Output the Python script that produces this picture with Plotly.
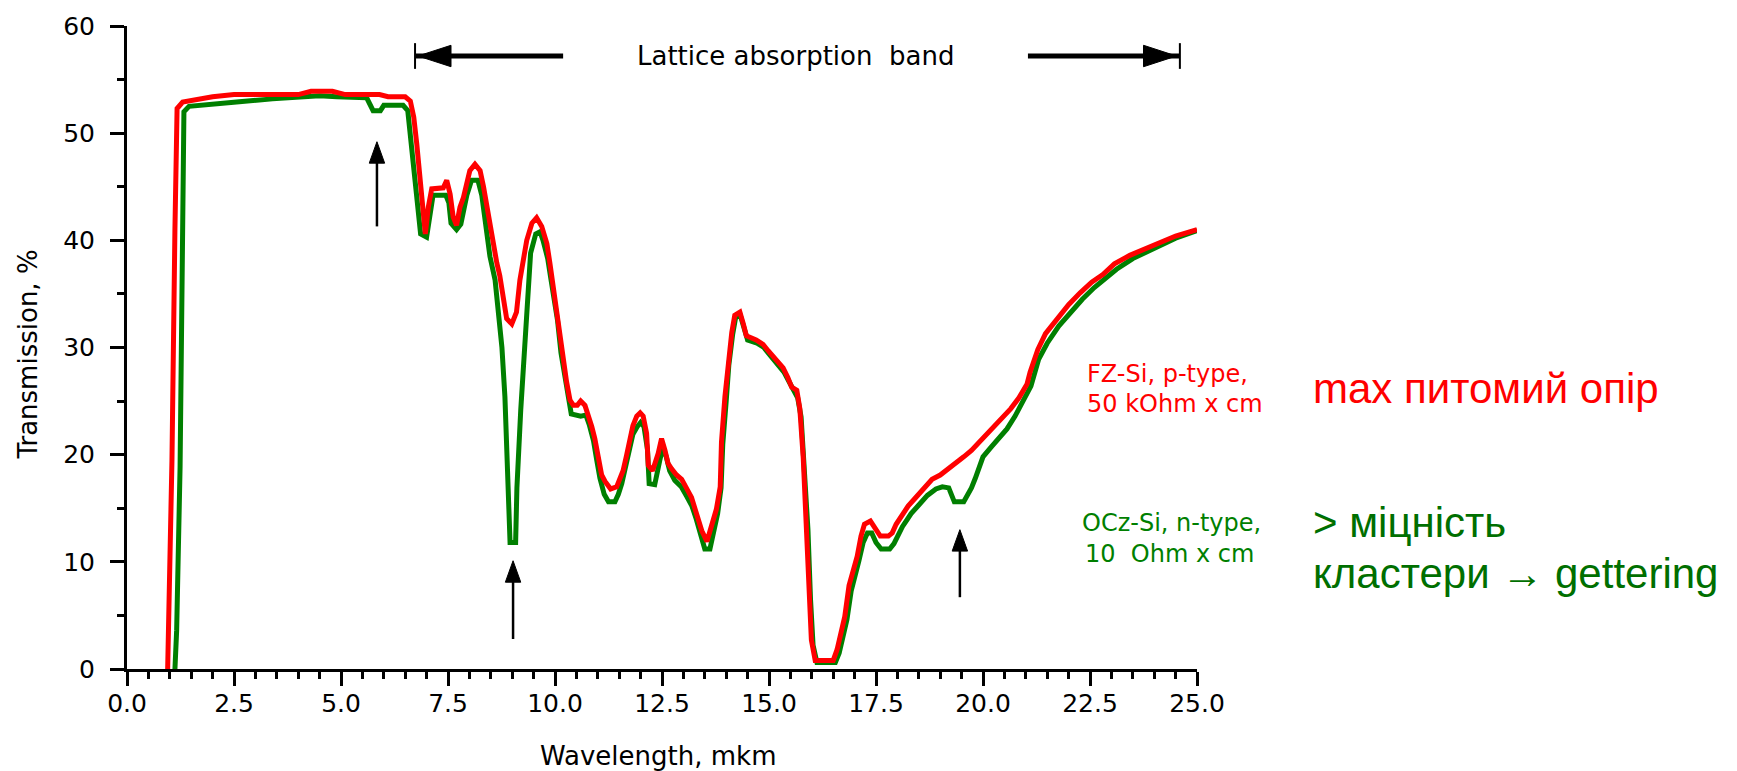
import plotly.graph_objects as go

# FZ-Si, p-type, 50 kOhm x cm
fz_wavelength = [0.95, 0.97, 1.05, 1.12, 1.17, 1.3, 1.6, 2.0, 2.5, 3.0, 3.5, 4.0, 4.3, 4.8, 5.1, 5.5, 5.9,
                 6.1, 6.5, 6.62, 6.7, 6.77, 6.84, 6.9, 6.97, 7.04, 7.12, 7.39, 7.47, 7.55, 7.62, 7.70, 7.78,
                 7.86, 7.94, 8.01, 8.13, 8.25, 8.33, 8.41, 8.48, 8.56, 8.64, 8.71, 8.79, 8.87, 8.99, 9.1,
                 9.18, 9.26, 9.34, 9.46, 9.57, 9.69, 9.81, 9.88, 9.96, 10.04, 10.12, 10.19, 10.27, 10.35,
                 10.43, 10.52, 10.6, 10.7, 10.77, 10.86, 10.93, 11.0, 11.09, 11.17, 11.3, 11.44, 11.52,
                 11.59, 11.67, 11.75, 11.82, 11.91, 11.99, 12.06, 12.14, 12.18, 12.28, 12.41, 12.49, 12.57,
                 12.64, 12.72, 12.84, 12.96, 13.04, 13.11, 13.19, 13.27, 13.34, 13.43, 13.55, 13.69, 13.77,
                 13.86, 13.89, 13.97, 14.04, 14.13, 14.2, 14.32, 14.4, 14.47, 14.7, 14.86, 14.98, 15.1,
                 15.2, 15.33, 15.44, 15.53, 15.65, 15.72, 15.8, 15.88, 15.94, 15.99, 16.08, 16.5, 16.59,
                 16.68, 16.77, 16.87, 16.96, 17.06, 17.15, 17.23, 17.37, 17.47, 17.6, 17.79, 17.88, 17.97,
                 18.06, 18.15, 18.25, 18.43, 18.62, 18.81, 19.0, 19.17, 19.36, 19.55, 19.73, 19.92, 20.1,
                 20.28, 20.47, 20.65, 20.84, 21.03, 21.1, 21.28, 21.46, 21.73, 22.0, 22.27, 22.54, 22.8,
                 23.07, 23.43, 24.0, 24.5, 25.0]
fz_transmission = [0.0, 4.3, 19.4, 41.1, 52.3, 52.9, 53.1, 53.4, 53.6, 53.6, 53.6, 53.6, 53.9, 53.9, 53.6,
                   53.6, 53.6, 53.4, 53.4, 53.0, 51.5, 49.0, 45.6, 43.1, 40.6, 43.1, 44.8, 44.9, 45.6, 44.3,
                   42.2, 41.4, 43.1, 44.0, 45.6, 46.5, 47.1, 46.5, 45.0, 43.1, 41.6, 39.4, 37.9, 36.7, 34.8,
                   32.7, 32.2, 33.3, 36.3, 38.2, 40.0, 41.6, 42.1, 41.3, 39.7, 37.9, 35.5, 33.5, 30.5, 28.5,
                   26.8, 25.1, 24.6, 24.6, 25.0, 24.6, 23.8, 22.6, 21.5, 19.7, 18.1, 17.5, 16.8, 17.0, 17.8,
                   18.5, 19.9, 21.5, 22.7, 23.6, 23.9, 23.6, 22.0, 19.0, 18.5, 20.1, 21.5, 20.4, 19.2, 18.7,
                   18.1, 17.7, 17.2, 16.6, 16.0, 15.0, 14.1, 12.9, 11.9, 13.8, 14.9, 17.0, 21.2, 25.4, 28.5,
                   31.4, 33.0, 33.3, 32.2, 31.1, 30.7, 30.3, 29.7, 29.1, 28.6, 28.1, 27.2, 26.3, 26.0, 24.3,
                   19.7, 13.5, 7.0, 2.7, 0.8, 0.8, 1.8, 3.6, 4.9, 7.8, 9.0, 10.5, 12.4, 13.5, 13.8, 13.1,
                   12.4, 12.4, 12.7, 13.5, 14.1, 14.7, 15.2, 16.0, 16.9, 17.7, 18.1, 18.6, 19.2, 19.8, 20.4,
                   21.2, 21.9, 22.7, 23.5, 24.3, 25.3, 26.6, 27.7, 29.8, 31.3, 32.7, 34.0, 35.1, 36.1, 36.8,
                   37.8, 38.6, 39.6, 40.4, 41.0]

# OCz-Si, n-type, 10 Ohm x cm
ocz_wavelength = [1.12, 1.16, 1.24, 1.3, 1.33, 1.45, 2.17, 2.56, 3.4, 4.2, 4.5, 4.9, 5.6, 5.75, 5.92, 6.0,
                  6.45, 6.56, 6.66, 6.75, 6.86, 7.0, 7.08, 7.15, 7.45, 7.52, 7.57, 7.7, 7.8, 7.86, 7.94,
                  8.05, 8.2, 8.29, 8.41, 8.48, 8.6, 8.68, 8.76, 8.83, 8.9, 8.95, 9.08, 9.11, 9.2, 9.28,
                  9.35, 9.43, 9.55, 9.65, 9.72, 9.83, 9.9, 9.98, 10.06, 10.14, 10.22, 10.3, 10.38, 10.6,
                  10.72, 10.8, 10.9, 10.97, 11.05, 11.15, 11.25, 11.4, 11.48, 11.56, 11.64, 11.73, 11.82,
                  11.92, 12.0, 12.08, 12.16, 12.2, 12.33, 12.45, 12.52, 12.6, 12.68, 12.8, 12.95, 13.08,
                  13.2, 13.3, 13.4, 13.5, 13.62, 13.72, 13.8, 13.88, 13.92, 14.0, 14.06, 14.15, 14.22,
                  14.33, 14.42, 14.5, 14.72, 14.88, 15.0, 15.12, 15.22, 15.35, 15.47, 15.56, 15.67, 15.75,
                  15.83, 15.91, 15.97, 16.03, 16.12, 16.55, 16.64, 16.73, 16.82, 16.92, 17.01, 17.1, 17.2,
                  17.3, 17.4, 17.5, 17.62, 17.82, 17.92, 18.02, 18.12, 18.22, 18.32, 18.5, 18.7, 18.9,
                  19.05, 19.2, 19.33, 19.55, 19.73, 19.82, 19.92, 20.0, 20.19, 20.37, 20.56, 20.75, 20.93,
                  21.12, 21.3, 21.5, 21.77, 22.05, 22.32, 22.6, 22.85, 23.12, 23.5, 24.0, 24.5, 25.0]
ocz_transmission = [0.0, 3.6, 18.8, 40.6, 52.0, 52.5, 52.7, 52.9, 53.2, 53.4, 53.5, 53.4, 53.3, 52.1, 52.1,
                    52.6, 52.6, 52.1, 48.4, 45.3, 40.6, 40.3, 42.4, 44.2, 44.2, 43.5, 41.6, 41.0, 41.5,
                    42.8, 44.2, 45.6, 45.6, 44.2, 41.0, 38.5, 36.3, 33.5, 30.0, 25.4, 18.0, 11.8, 11.8,
                    16.9, 24.2, 29.3, 34.8, 38.8, 40.6, 40.8, 40.0, 38.3, 36.5, 34.5, 32.5, 29.5, 27.5,
                    25.3, 23.8, 23.6, 23.7, 22.8, 21.3, 19.6, 17.8, 16.3, 15.6, 15.6, 16.3, 17.3, 18.6,
                    20.4, 21.9, 22.6, 23.0, 22.6, 20.5, 17.3, 17.2, 19.5, 20.7, 19.8, 18.5, 17.6, 17.0,
                    16.1, 15.2, 14.0, 12.6, 11.2, 11.2, 13.2, 14.5, 16.9, 21.0, 25.0, 28.3, 31.2, 32.8,
                    33.0, 31.9, 30.7, 30.4, 30.0, 29.4, 28.8, 28.3, 27.7, 26.8, 26.0, 25.3, 23.5, 19.0,
                    13.0, 6.5, 2.2, 0.6, 0.6, 1.5, 3.2, 4.6, 7.3, 8.6, 10.1, 11.8, 12.7, 12.7, 11.8, 11.2,
                    11.2, 11.7, 12.6, 13.3, 13.9, 14.5, 15.3, 16.2, 16.8, 17.0, 16.9, 15.6, 15.6, 16.9,
                    17.8, 19.0, 19.8, 20.7, 21.5, 22.4, 23.6, 25.0, 26.4, 28.9, 30.4, 32.0, 33.3, 34.5,
                    35.6, 36.4, 37.3, 38.3, 39.3, 40.2, 40.9]

x_ticks = [0, 2.5, 5, 7.5, 10, 12.5, 15, 17.5, 20, 22.5, 25]
x_tick_labels = ["0.0", "2.5", "5.0", "7.5", "10.0", "12.5", "15.0", "17.5", "20.0", "22.5", "25.0"]
y_ticks = [0, 10, 20, 30, 40, 50, 60]
y_tick_labels = ["0", "10", "20", "30", "40", "50", "60"]

# Absorption features marked with upward arrows: wavelength, tail, tip
mark_x = [5.84, 9.02, 19.46]
mark_tail = [41.3, 2.8, 6.7]
mark_tip = [49.2, 10.1, 13.0]

RED = "#ff0000"
GREEN = "#007f00"
GREEN_TEXT = "#006f00"
SMALL_FONT = "DejaVu Sans"
BIG_FONT = "Liberation Sans, Arial"

fig = go.Figure()
fig.add_trace(go.Scatter(x=ocz_wavelength, y=ocz_transmission, mode="lines",
                         line=dict(color=GREEN, width=5), name="OCz-Si"))
fig.add_trace(go.Scatter(x=fz_wavelength, y=fz_transmission, mode="lines",
                         line=dict(color=RED, width=5), name="FZ-Si"))

shapes = []
# upward arrows
head_h, head_w = 2.0, 0.18
for x, t0, t1 in zip(mark_x, mark_tail, mark_tip):
    shapes.append(dict(type="line", xref="x", yref="y", x0=x, x1=x, y0=t0, y1=t1 - head_h + 0.2,
                       line=dict(color="black", width=2.5)))
    shapes.append(dict(type="path", xref="x", yref="y",
                       path=f"M {x - head_w},{t1 - head_h} L {x + head_w},{t1 - head_h} L {x},{t1} Z",
                       fillcolor="black", line=dict(color="black", width=1)))

# lattice absorption band bracket
band_y = 57.2
band_left, band_right = 6.73, 24.60
shapes += [
    dict(type="line", xref="x", yref="y", x0=band_left, x1=band_left, y0=56.0, y1=58.4,
         line=dict(color="black", width=2)),
    dict(type="line", xref="x", yref="y", x0=band_right, x1=band_right, y0=56.0, y1=58.4,
         line=dict(color="black", width=2)),
    dict(type="line", xref="x", yref="y", x0=band_left, x1=10.19, y0=band_y, y1=band_y,
         line=dict(color="black", width=5)),
    dict(type="line", xref="x", yref="y", x0=21.05, x1=band_right, y0=band_y, y1=band_y,
         line=dict(color="black", width=5)),
    dict(type="path", xref="x", yref="y",
         path=f"M 6.80,{band_y} L 7.57,{band_y + 1.0} L 7.57,{band_y - 1.0} Z",
         fillcolor="black", line=dict(color="black", width=1)),
    dict(type="path", xref="x", yref="y",
         path=f"M 24.52,{band_y} L 23.75,{band_y + 1.0} L 23.75,{band_y - 1.0} Z",
         fillcolor="black", line=dict(color="black", width=1)),
]


def label(text, x, y, size, color, family=SMALL_FONT, xanchor="left", xref="paper", yref="paper", angle=0):
    return dict(text=text, x=x, y=y, xref=xref, yref=yref, xanchor=xanchor, yanchor="middle",
                textangle=angle, showarrow=False, font=dict(family=family, size=size, color=color))


annotations = [
    label("Lattice absorption\u00a0\u00a0band", 15.62, band_y, 26, "black", xanchor="center", xref="x", yref="y"),
    label("Transmission, %", -0.0925, 0.489, 26, "black", xanchor="center", angle=-90),
    label("Wavelength, mkm", 0.496, -0.136, 26, "black", xanchor="center"),
    label("FZ-Si, p-type,", 0.8953, 0.4583, 24, RED),
    label("50 kOhm x cm", 0.8953, 0.412, 24, RED),
    label("OCz-Si, n-type,", 0.8906, 0.2269, 24, GREEN),
    label("10\u00a0\u00a0Ohm x cm", 0.8935, 0.179, 24, GREEN),
    label("max питомий опір", 1.1065, 0.4367, 42, RED, family=BIG_FONT),
    label("> міцність", 1.1065, 0.2284, 42, GREEN_TEXT, family=BIG_FONT),
    label("кластери → gettering", 1.1065, 0.148, 42, GREEN_TEXT, family=BIG_FONT),
]

axis_common = dict(showline=True, linewidth=3, linecolor="black", showgrid=False, zeroline=False,
                   ticks="outside", ticklen=14, tickwidth=3, tickcolor="black",
                   tickfont=dict(family=SMALL_FONT, size=25, color="black"))

fig.update_layout(
    width=1737, height=771,
    margin=dict(l=127, r=540, t=21, b=102),
    plot_bgcolor="white", paper_bgcolor="white",
    showlegend=False,
    shapes=shapes, annotations=annotations,
    xaxis=dict(range=[0, 25], tickvals=x_ticks, ticktext=x_tick_labels, ticklabelstandoff=-4,
               minor=dict(dtick=0.5, ticks="outside", ticklen=7, tickwidth=3, tickcolor="black"),
               **axis_common),
    yaxis=dict(range=[0, 60], tickvals=y_ticks, ticktext=y_tick_labels, ticklabelstandoff=10,
               minor=dict(dtick=5, ticks="outside", ticklen=7, tickwidth=3, tickcolor="black"),
               **axis_common),
)

fig.write_html("out.html")
